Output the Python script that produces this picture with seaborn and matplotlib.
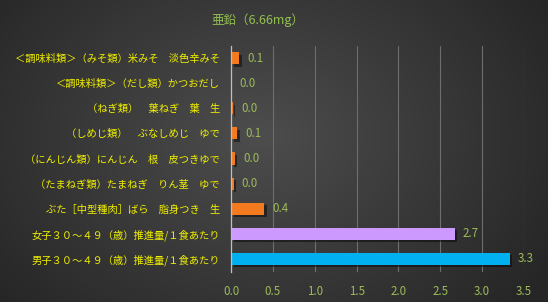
import numpy as np
import pandas as pd
import matplotlib
matplotlib.use("Agg")
import matplotlib.pyplot as plt
import matplotlib.patheffects as pe
import seaborn as sns

categories = [
    "＜調味料類＞（みそ類）米みそ　淡色辛みそ",
    "＜調味料類＞（だし類）かつおだし",
    "（ねぎ類）　葉ねぎ　葉　生",
    "（しめじ類）　ぶなしめじ　ゆで",
    "（にんじん類）にんじん　根　皮つきゆで",
    "（たまねぎ類）たまねぎ　りん茎　ゆで",
    "ぶた［中型種肉］ばら　脂身つき　生",
    "女子３０～４９（歳）推進量/１食あたり",
    "男子３０～４９（歳）推進量/１食あたり",
]
values = [0.10, 0.004, 0.02, 0.075, 0.045, 0.03, 0.40, 2.67, 3.33]
bar_colors = ["#F47A20"] * 7 + ["#CC99FF", "#00B0F0"]
title = "亜鉛（6.66mg）"
xticks = [0.0, 0.5, 1.0, 1.5, 2.0, 2.5, 3.0, 3.5]

sns.set_theme(style="white")
plt.rcParams["font.family"] = ["Noto Sans CJK JP", "DejaVu Sans"]

W, H = 548, 302
fig = plt.figure(figsize=(W / 100, H / 100), dpi=100)

# radial gradient background
bg = fig.add_axes([0, 0, 1, 1], zorder=-10)
yy, xx = np.mgrid[0:H, 0:W]
cx, cy = W * 0.47, H * 0.45
r = np.sqrt(((xx - cx) / (W * 0.62)) ** 2 + ((yy - cy) / (H * 0.85)) ** 2)
r = np.clip(r, 0, 1)
c0 = np.array([0x4d, 0x4d, 0x4d]) / 255
c1 = np.array([0x26, 0x26, 0x26]) / 255
img = c0[None, None, :] * (1 - r[..., None]) + c1[None, None, :] * r[..., None]
bg.imshow(img, aspect="auto", extent=[0, 1, 0, 1])
bg.axis("off")

ax = fig.add_axes([231 / W, 1 - 271.5 / H, (524 - 231) / W, (271.5 - 45.5) / H])
ax.patch.set_alpha(0)

df = pd.DataFrame({"cat": categories, "val": values})
sns.barplot(data=df, y="cat", x="val", hue="cat", palette=bar_colors,
            orient="h", width=0.48, legend=False, ax=ax, saturation=1)

for p in ax.patches:
    p.set_edgecolor("none")
    p.set_path_effects([pe.SimplePatchShadow(offset=(1.8, -1.8), shadow_rgbFace="black", alpha=0.45),
                        pe.Normal()])
    p.set_zorder(3)

green = "#9BBB59"
for i, v in enumerate(values):
    ax.annotate(f"{v:.1f}", xy=(v, i), xytext=(6, 0), textcoords="offset points",
                ha="left", va="center", color=green, fontsize=8.3)

ax.set_xlim(0, 3.5)
ax.set_ylim(8.5, -0.5)
ax.set_xticks(xticks)
ax.set_xticklabels([f"{t:.1f}" for t in xticks], color=green, fontsize=8.3)
ax.tick_params(axis="x", length=0, pad=10)
ax.tick_params(axis="y", length=0, pad=8)
ax.set_yticks(range(len(categories)))
ax.set_yticklabels(categories, color="#F0F000", fontsize=7.4)
ax.set_xlabel("")
ax.set_ylabel("")
ax.grid(axis="x", color="#6e6e6e", linewidth=0.8, zorder=0)
ax.grid(axis="y", visible=False)
ax.set_axisbelow(True)
for s in ["top", "right", "bottom"]:
    ax.spines[s].set_visible(False)
ax.spines["left"].set_color("#bfbfbf")
ax.spines["left"].set_linewidth(0.9)
ax.spines["left"].set_zorder(4)

fig.text(0.47, 1 - 20 / H, title, color="#92C050", fontsize=9, ha="center", va="center")

fig.savefig("out.png", dpi=100)
